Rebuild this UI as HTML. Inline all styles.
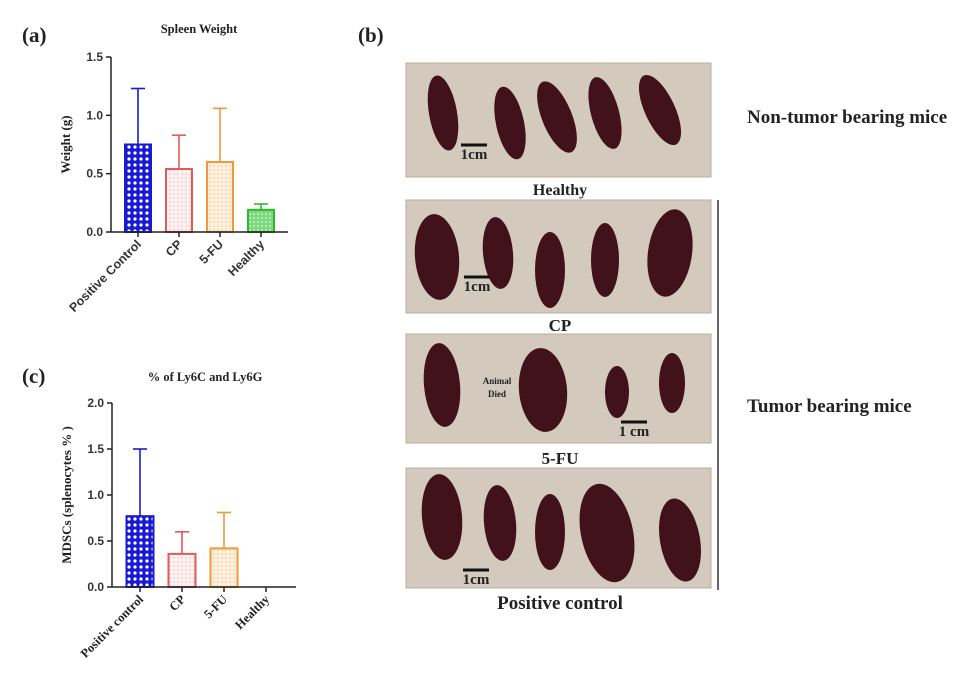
<!DOCTYPE html>
<html><head><meta charset="utf-8"><style>
body{margin:0;background:#fff;width:974px;height:678px;overflow:hidden}
svg{display:block}
.serif{font-family:"Liberation Serif",serif;font-weight:bold;fill:#222}
.sans{font-family:"Liberation Sans",sans-serif;font-weight:bold;fill:#333}
</style></head><body>
<svg id="fig" width="974" height="678" viewBox="0 0 974 678">
<defs>
<pattern id="pBlue" width="6" height="6" patternUnits="userSpaceOnUse"><rect width="6" height="6" fill="#1a1ad0"/><circle cx="3" cy="3" r="1.6" fill="#fff"/></pattern>
<pattern id="pRed" width="4" height="4" patternUnits="userSpaceOnUse"><rect width="4" height="4" fill="#fdf1f1"/><circle cx="2" cy="2" r="0.7" fill="#f0b0b0"/></pattern>
<pattern id="pOrange" width="4" height="4" patternUnits="userSpaceOnUse"><rect width="4" height="4" fill="#fdf0de"/><circle cx="2" cy="2" r="0.8" fill="#f0c48a"/></pattern>
<pattern id="pGreen" width="4" height="4" patternUnits="userSpaceOnUse"><rect width="4" height="4" fill="#7ed97e"/><circle cx="2" cy="2" r="0.9" fill="#d8f5d8"/></pattern>
</defs>
<text class="serif" x="22" y="42" font-size="21">(a)</text>
<text class="serif" x="358" y="42" font-size="21">(b)</text>
<text class="serif" x="22" y="383" font-size="21">(c)</text>
<g id="chartA"></g>
<g id="chartC"></g>
<g id="photos"></g>
<text class="serif" x="747" y="123" font-size="19">Non-tumor bearing mice</text>
<text class="serif" x="747" y="412" font-size="19">Tumor bearing mice</text>
<line x1="718" y1="200" x2="718" y2="590" stroke="#333" stroke-width="1.5"/>
</svg>
<script>
const catsA=["Positive Control","CP","5-FU","Healthy"];
const meansA=[0.75,0.54,0.60,0.19];
const errsA=[1.23,0.83,1.06,0.24];
const ticksA=[0,0.5,1.0,1.5];
const catsC=["Positive control","CP","5-FU","Healthy"];
const meansC=[0.77,0.36,0.42,0];
const errsC=[1.5,0.6,0.81,0];
const ticksC=[0,0.5,1.0,1.5,2.0];
const strokes=["#1a1ad0","#e05a5a","#ee9a3a","#2eb82e"];
const fills=["url(#pBlue)","url(#pRed)","url(#pOrange)","url(#pGreen)"];
const NS="http://www.w3.org/2000/svg";
function mk(p,t,a,txt){const e=document.createElementNS(NS,t);for(const k in a)e.setAttribute(k,a[k]);if(txt!=null)e.textContent=txt;p.appendChild(e);return e;}
function chart(g,cfg){
  const y=v=>cfg.y0-(v/cfg.max)*(cfg.y0-cfg.yTop);
  const x=i=>cfg.x0+cfg.first+i*cfg.step;
  mk(g,"text",{class:"serif","font-size":12.5,x:cfg.titleX,y:cfg.titleY,"text-anchor":"middle"},cfg.title);
  const yt=mk(g,"text",{class:"serif","font-size":13,transform:`translate(${cfg.x0-41},${(cfg.y0+cfg.yTop)/2}) rotate(-90)`,"text-anchor":"middle"},cfg.ylab);
  
  
  cfg.cats.forEach((c,i)=>{
    const cx=x(i),top=y(cfg.means[i]);
    if(cfg.errs[i]>cfg.means[i]){
      const el=mk(g,"line",{x1:cx,x2:cx,y1:top,y2:y(cfg.errs[i]),stroke:strokes[i],"stroke-width":1.6});
      
      
      mk(g,"line",{x1:cx-7,x2:cx+7,y1:y(cfg.errs[i]),y2:y(cfg.errs[i]),stroke:strokes[i],"stroke-width":1.6});
    }
    if(cfg.means[i]>0){
      const b=mk(g,"rect",{x:cx-cfg.bw/2,y:top,width:cfg.bw,height:cfg.y0-top,fill:fills[i],stroke:strokes[i],"stroke-width":2});
      
      
    }
    mk(g,"line",{x1:cx,x2:cx,y1:cfg.y0,y2:cfg.y0+5,stroke:"#222","stroke-width":1.5});
    const lb=mk(g,"text",{class:cfg.xcls,"font-size":cfg.xfs,"text-anchor":"end",transform:`translate(${cx+4},${cfg.y0+13}) rotate(-45)`},c);
    
    
  });
  mk(g,"line",{x1:cfg.x0,x2:cfg.x0,y1:cfg.yTop,y2:cfg.y0,stroke:"#222","stroke-width":1.5});
  mk(g,"line",{x1:cfg.x0,x2:cfg.xEnd,y1:cfg.y0,y2:cfg.y0,stroke:"#222","stroke-width":1.5});
  cfg.ticks.forEach(t=>{
    mk(g,"line",{x1:cfg.x0-5,x2:cfg.x0,y1:y(t),y2:y(t),stroke:"#222","stroke-width":1.5});
    const tl=mk(g,"text",{class:"sans","font-size":12,x:cfg.x0-8,y:y(t)+4,"text-anchor":"end"},t.toFixed(1));
    
    
  });
}
chart(document.getElementById("chartA"),{cats:catsA,means:meansA,errs:errsA,ticks:ticksA,max:1.5,x0:111,xEnd:288,y0:232,yTop:57,first:27,step:41,bw:26,title:"Spleen Weight",titleX:199,titleY:33,ylab:"Weight (g)",xcls:"sans",xfs:12.5});
chart(document.getElementById("chartC"),{cats:catsC,means:meansC,errs:errsC,ticks:ticksC,max:2.0,x0:112,xEnd:296,y0:587,yTop:403,first:28,step:42,bw:27,title:"% of Ly6C and Ly6G",titleX:205,titleY:381,ylab:"MDSCs (splenocytes % )",xcls:"serif",xfs:12.5});
const ph=document.getElementById("photos");
const panels=[
 {y:63,h:114,label:"Healthy",ly:195,fs:16,sp:[[443,113,14,38,-10],[510,123,14,37,-12],[557,117,15,38,-22],[605,113,14,37,-15],[660,110,15,38,-25]],sc:[462,159,"1cm"]},
 {y:200,h:113,label:"CP",ly:331,fs:17,sp:[[437,257,22,43,-5],[498,253,15,36,-5],[550,270,15,38,0],[605,260,14,37,0],[670,253,22,44,8]],sc:[465,291,"1cm"]},
 {y:334,h:109,label:"5-FU",ly:464,fs:17,sp:[[442,385,18,42,-5],[543,390,24,42,-5],[617,392,12,26,0],[672,383,13,30,0]],sc:[622,436,"1 cm"]},
 {y:468,h:120,label:"Positive control",ly:609,fs:19,sp:[[442,517,20,43,-5],[500,523,16,38,-5],[550,532,15,38,0],[607,533,26,50,-12],[680,540,20,42,-10]],sc:[464,584,"1cm"]}
];
panels.forEach((p,k)=>{
  const r=mk(ph,"rect",{x:406,y:p.y,width:305,height:p.h,fill:"#d3cabd",stroke:"#b8ad9f"});
  
  
  p.sp.forEach(s=>{
    const e=mk(ph,"ellipse",{cx:s[0],cy:s[1],rx:s[2],ry:s[3],fill:"#42121a",transform:`rotate(${s[4]},${s[0]},${s[1]})`});
    
    
  });
  mk(ph,"line",{x1:p.sc[0]-1,x2:p.sc[0]+25,y1:p.sc[1]-14,y2:p.sc[1]-14,stroke:"#111","stroke-width":3});
  mk(ph,"text",{class:"serif","font-size":15,x:p.sc[0]+12,y:p.sc[1],"text-anchor":"middle","font-weight":"normal"},p.sc[2]);
  const t=mk(ph,"text",{class:"serif","font-size":p.fs,x:560,y:p.ly,"text-anchor":"middle"},p.label);
  
  
});
mk(ph,"text",{class:"serif","font-size":9,x:497,y:384,"text-anchor":"middle","font-weight":"normal"},"Animal");
mk(ph,"text",{class:"serif","font-size":9,x:497,y:397,"text-anchor":"middle","font-weight":"normal"},"Died");
</script>
</body></html>
